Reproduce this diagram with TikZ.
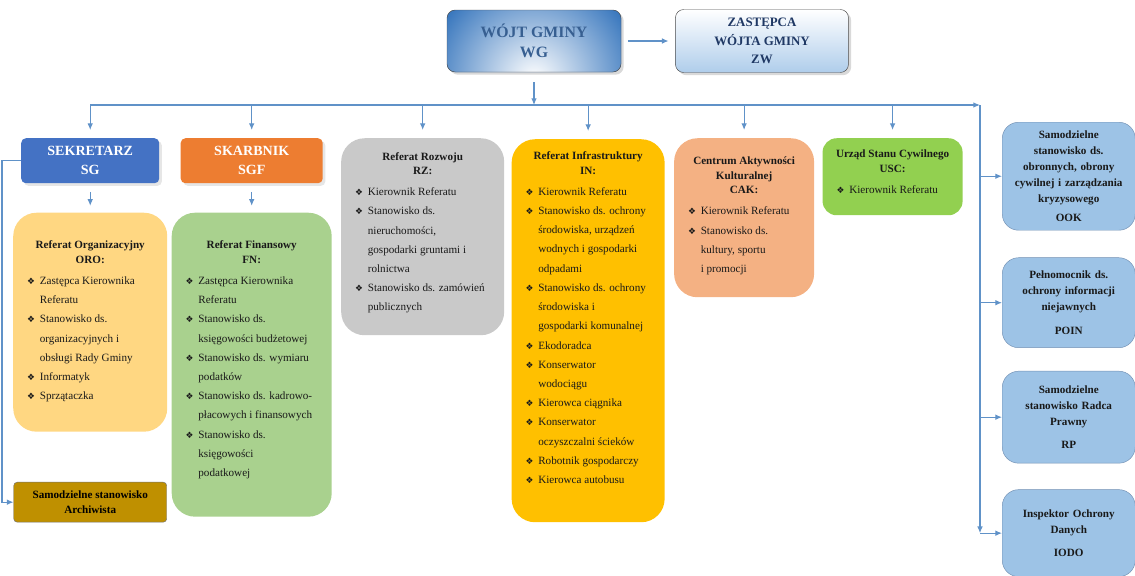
\documentclass[tikz,border=0pt]{standalone}
\usepackage{fontspec}
\setmainfont{Liberation Serif}
\newfontfamily\dingfont{DejaVu Sans}
\usetikzlibrary{positioning,arrows.meta,shadows}
\definecolor{linkblue}{RGB}{96,146,200}
\definecolor{wgblue}{RGB}{58,120,190}
\definecolor{wgtext}{RGB}{55,95,145}
\definecolor{zwblue}{RGB}{175,205,235}
\definecolor{zwtext}{RGB}{31,56,100}
\definecolor{sgblue}{RGB}{68,114,196}
\definecolor{sgforange}{RGB}{237,125,49}
\definecolor{rzgray}{RGB}{201,201,201}
\definecolor{ingold}{RGB}{255,192,0}
\definecolor{cakpeach}{RGB}{244,177,131}
\definecolor{uscgreen}{RGB}{146,208,80}
\definecolor{orocream}{RGB}{255,215,130}
\definecolor{fngreen}{RGB}{169,209,142}
\definecolor{archgold}{RGB}{191,144,0}
\definecolor{sideblue}{RGB}{157,195,230}
\definecolor{sideline}{RGB}{115,145,180}
\newcommand{\bul}{{\dingfont\fontsize{7.5}{7.5}\selectfont ❖}}
\newcommand{\itm}[1]{\par\hangindent=0.38cm\hangafter=1\noindent\makebox[0.38cm][l]{\bul}{\let\\\newline #1}\par}
\newcommand{\panelhead}[1]{{\centering\bfseries\fontsize{9.5}{12.5}\selectfont #1\par}\vspace{1.5pt}}
\newcommand{\panelbox}[3]{\parbox[c][#2][t]{#1}{\raggedright #3}}
\tikzset{
  chief/.style  = {rectangle, draw=black!70, rounded corners=7pt,
                   minimum width=5.22cm, minimum height=1.86cm, align=center,
                   text=wgtext, font=\bfseries\fontsize{13.5}{17}\selectfont,
                   fill=wgblue, drop shadow={opacity=0.3},
                   path picture={\shade[inner color=white, outer color=wgblue]
                     ([yshift=-2mm]path picture bounding box.south) circle (3.2cm);}},
  deputy/.style = {rectangle, draw=black!70, rounded corners=7pt,
                   minimum width=5.19cm, minimum height=1.89cm, align=center,
                   text=zwtext, font=\bfseries\fontsize{11}{15.8}\selectfont,
                   top color=white, bottom color=zwblue, drop shadow={opacity=0.3}},
  head/.style   = {rectangle, rounded corners=4pt, minimum height=1.35cm,
                   align=center, text=white, font=\bfseries\fontsize{12}{16}\selectfont,
                   drop shadow={opacity=0.2}},
  panel/.style  = {rectangle, rounded corners=20pt, inner xsep=0.42cm, inner ysep=0.3cm,
                   font=\fontsize{9.5}{16.4}\selectfont, text=black!90},
  side/.style   = {rectangle, draw=sideline, fill=sideblue, rounded corners=14pt,
                   minimum width=3.99cm, text width=3.6cm, align=center,
                   font=\bfseries\fontsize{9.5}{13.5}\selectfont, text=black!90},
  arch/.style   = {rectangle, draw=black!55, fill=archgold, rounded corners=3pt,
                   minimum width=4.59cm, minimum height=1.2cm, align=center,
                   font=\bfseries\fontsize{9.5}{12.5}\selectfont},
  link/.style   = {draw=linkblue, line width=1pt, -{Latex[length=2mm,width=1.7mm]}}
}
\begin{document}
\begin{tikzpicture}[node distance=0.8cm and 0.5cm]
    \useasboundingbox (0,0) rectangle (34.05,-17.25);
    \coordinate (bus) at (0,-3.15);
    \coordinate (rail) at (29.4,-3.15);
    \coordinate (lft) at (0.06,0);
    \node[chief] (wg) at (16.02,-1.23) {WÓJT GMINY\\WG};
    \node[deputy,right=1.62cm of wg] (zw) {ZASTĘPCA\\WÓJTA GMINY\\ZW};
    \node[head,fill=sgblue,minimum width=4.14cm,anchor=north west] (sg) at (0.63,-4.14) {SEKRETARZ\\SG};
    \node[head,fill=sgforange,minimum width=4.26cm,below right=0cm and 0.63cm of sg.north east] (sgf) {SKARBNIK\\SGF};
    \node[panel,fill=rzgray,below right=0cm and 0.54cm of sgf.north east] (rz) {\panelbox{4.05cm}{5.31cm}{%
      \vspace*{0.12cm}\panelhead{Referat Rozwoju\\RZ:}
      \itm{Kierownik Referatu}
      \itm{Stanowisko ds.\\nieruchomości,\\gospodarki gruntami i\\rolnictwa}
      \itm{Stanowisko ds. zamówień\\publicznych}}};
    \node[panel,fill=ingold,below right=0.03cm and 0.21cm of rz.north east] (infra) {\panelbox{3.75cm}{10.89cm}{%
      \vspace*{0.08cm}\panelhead{Referat Infrastruktury\\IN:}
      \itm{Kierownik Referatu}
      \itm{Stanowisko ds. ochrony\\środowiska, urządzeń\\wodnych i gospodarki\\odpadami}
      \itm{Stanowisko ds. ochrony\\środowiska i\\gospodarki komunalnej}
      \itm{Ekodoradca}
      \itm{Konserwator\\wodociągu}
      \itm{Kierowca ciągnika}
      \itm{Konserwator\\oczyszczalni ścieków}
      \itm{Robotnik gospodarczy}
      \itm{Kierowca autobusu}}};
    \node[panel,fill=cakpeach,below right=-0.03cm and 0.27cm of infra.north east] (cak) {\panelbox{3.36cm}{4.17cm}{%
      \vspace*{0.26cm}\panelhead{Centrum Aktywności\\Kulturalnej\\CAK:}
      \itm{Kierownik Referatu}
      \itm{Stanowisko ds.\\kultury, sportu\\i promocji}}};
    \node[panel,fill=uscgreen,rounded corners=12pt,below right=0cm and 0.24cm of cak.north east] (usc) {\panelbox{3.36cm}{1.71cm}{%
      \vspace*{0.06cm}\panelhead{\makebox[\linewidth]{Urząd Stanu Cywilnego}\\USC:}
      \itm{Kierownik Referatu}}};
    \node[panel,fill=orocream,below=0.87cm of sg] (oro) {\panelbox{3.78cm}{5.97cm}{%
      \vspace*{0.55cm}\panelhead{Referat Organizacyjny\\ORO:}
      \itm{Zastępca Kierownika\\Referatu}
      \itm{Stanowisko ds.\\organizacyjnych i\\obsługi Rady Gminy}
      \itm{Informatyk}
      \itm{Sprzątaczka}}};
    \node[panel,fill=fngreen,below=0.87cm of sgf] (fn) {\panelbox{3.96cm}{8.52cm}{%
      \vspace*{0.55cm}\panelhead{Referat Finansowy\\FN:}
      \itm{Zastępca Kierownika\\Referatu}
      \itm{Stanowisko ds.\\księgowości budżetowej}
      \itm{Stanowisko ds. wymiaru\\podatków}
      \itm{Stanowisko ds. kadrowo-\\płacowych i finansowych}
      \itm{Stanowisko ds.\\księgowości\\podatkowej}}};
    \node[arch,below=1.5cm of oro] (arch) {Samodzielne stanowisko\\Archiwista};
    \node[side,minimum height=3.24cm,anchor=north west] (ook) at (30.06,-3.66) {Samodzielne\\stanowisko ds.\\obronnych, obrony\\cywilnej i zarządzania\\kryzysowego\\[3pt]OOK};
    \node[side,minimum height=2.7cm,below=0.81cm of ook] (poin) {Pełnomocnik ds.\\ochrony informacji\\niejawnych\\[7pt]POIN};
    \node[side,minimum height=2.76cm,below=0.69cm of poin] (rp) {Samodzielne\\stanowisko Radca\\Prawny\\[6pt]RP};
    \node[side,minimum height=2.61cm,below=0.78cm of rp] (iodo) {Inspektor Ochrony\\Danych\\[6pt]IODO};
    \draw[link,shorten <=0.2cm,shorten >=0.2cm] (wg)--(zw);
    \draw[link,shorten <=0.3cm] (wg)--(wg |- bus);
    \draw[link] (sg |- bus)--(rail);
    \draw[link] (rail)--(rail |- iodo);
    \foreach \n in {sg,sgf,rz,infra,cak,usc}
      \draw[link,shorten >=0.24cm] (\n |- bus)--(\n);
    \foreach \n in {ook,poin,rp,iodo}
      \draw[link] (rail |- \n)--(\n);
    \draw[link,shorten <=0.25cm,shorten >=0.2cm] (sg)--(oro);
    \draw[link,shorten <=0.25cm,shorten >=0.2cm] (sgf)--(sgf |- fn.north);
    \draw[link] (sg)--(sg -| lft) |- (arch);
  \end{tikzpicture}
\end{document}
